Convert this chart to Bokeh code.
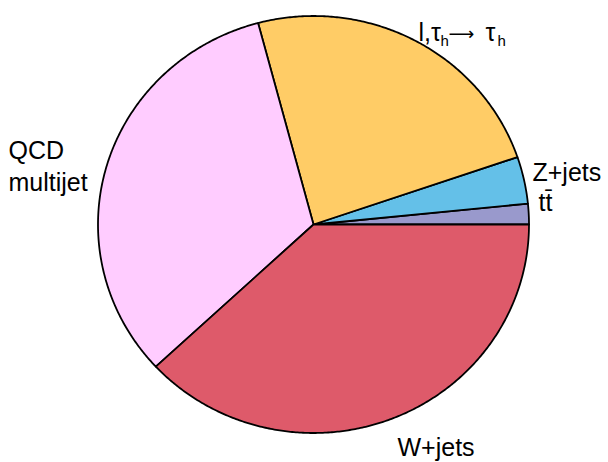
import numpy as np
from bokeh.plotting import figure
from bokeh.models import Range1d, Label
from bokeh.embed import file_html
from bokeh.resources import INLINE

# ---- data (percent of total) ----
categories = ["t\u0074\u0304", "Z+jets", "l,\u03c4h\u2192\u03c4h", "QCD multijet", "W+jets"]
fractions = [1.6, 3.64, 23.9, 32.8, 38.06]
colors = ["#9999CC", "#64C0E8", "#FFCC66", "#FFCCFF", "#DE5A6A"]

# ---- layout ----
W, H = 608, 462
CX, CY = 313, 224          # pie centre in page pixels
RX, RY = 215.5, 208.5      # pie radii in pixels
FONT = "Liberation Sans"

p = figure(width=W, height=H, output_backend="svg", toolbar_location=None,
           x_range=Range1d(-CX, W - CX), y_range=Range1d(CY - H, CY),
           x_axis_location=None, y_axis_location=None, min_border=0)
p.grid.visible = False
p.outline_line_color = None
p.background_fill_color = "white"
p.border_fill_color = "white"

frac = np.array(fractions, dtype=float)
frac = frac / frac.sum()
edges = np.concatenate([[0.0], np.cumsum(frac)]) * 2 * np.pi
xs, ys = [], []
for a0, a1 in zip(edges[:-1], edges[1:]):
    t = np.linspace(a0, a1, max(8, int((a1 - a0) * 120)))
    xs.append(np.concatenate([[0.0], RX * np.cos(t), [0.0]]).tolist())
    ys.append(np.concatenate([[0.0], RY * np.sin(t), [0.0]]).tolist())

p.patches(xs, ys, fill_color=colors, line_color="black", line_width=1.8, line_join="round")


def lab(text, ix, iy, size=25, font=FONT):
    p.add_layout(Label(x=ix - CX, y=CY - iy, text=text, text_font=font,
                       text_font_size=f"{size}px", text_color="black",
                       text_align="left", text_baseline="alphabetic"))


lab(categories[0], 538, 201)
lab(categories[1], 532, 171)
lab(categories[4], 397, 446)
qcd_lines = categories[3].split(" ")
lab(qcd_lines[0], 8, 149)
lab(qcd_lines[1], 8, 181)
# l,tau_h -> tau_h built from pieces
lab("l,\u03c4", 418, 31)
lab("h", 440, 40, 15)
lab("\u27f6", 448, 33, 18, "DejaVu Sans")
lab("\u03c4", 485, 31)
lab("h", 497, 40, 15)

open("out.html", "w").write(file_html(p, INLINE))
